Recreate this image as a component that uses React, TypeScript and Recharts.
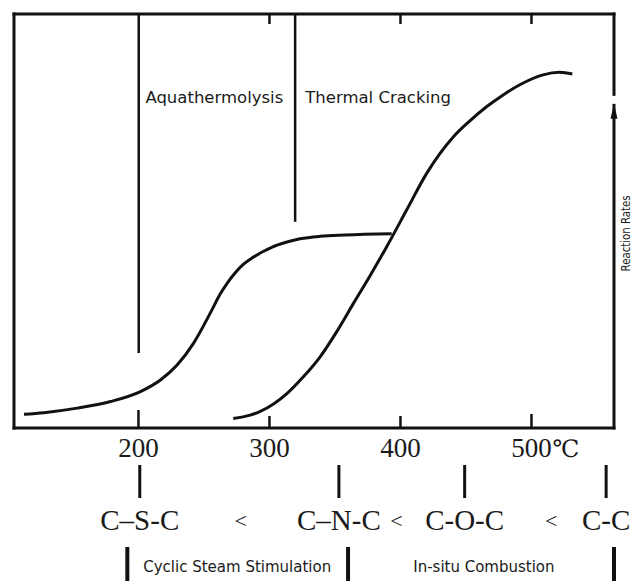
import React from 'react';
import { LineChart, Line, XAxis, YAxis, ReferenceLine, ReferenceDot } from 'recharts';

// ---------- data ----------
const tempDomain = [105, 563];
const rateDomain = [0, 100];

// low-temperature reaction curve (aquathermolysis): [temperature, rate]
const aquathermolysisCurve = [
  [112.6, 3.3], [127.8, 3.7], [153.3, 4.8], [178.7, 6.4], [201.5, 8.8],
  [216.8, 11.6], [229.5, 15.2], [242.1, 20.5], [254.9, 27.8], [262.5, 32.4],
  [267.8, 35.0], [273.9, 37.5], [280.0, 39.5], [286.9, 41.1], [294.5, 42.5],
  [302.1, 43.7], [312.0, 44.8], [323.4, 45.7], [338.7, 46.3], [357.7, 46.6],
  [393.3, 46.9],
];

// high-temperature reaction curve (thermal cracking): [temperature, rate]
const thermalCrackingCurve = [
  [272.4, 2.3], [285.3, 3.1], [293.0, 4.0], [313.3, 8.3], [325.7, 12.3],
  [338.7, 17.2], [351.6, 23.4], [364.1, 30.1], [376.8, 36.8], [389.5, 43.8],
  [404.8, 52.7], [420.0, 61.5], [440.3, 70.3], [453.0, 74.2], [465.7, 77.6],
  [478.1, 80.4], [491.1, 82.9], [508.8, 85.3], [521.6, 85.9], [531.2, 85.5],
];

const tempTicks = [200, 300, 400, 500];
const tempTickLabels = ['200', '300', '400', '500'];
const tempTickHeights = [18, 12, 12, 14];
const tempUnit = '℃';
const topTicks = [300, 400, 500];

// vertical region dividers: temperature, lower end (rate units)
const regionDividers = [
  { t: 200.2, from: 18.1 },
  { t: 319.6, from: 49.8 },
];
const regionLabels = [
  { t: 205.3, rate: 78.5, text: 'Aquathermolysis' },
  { t: 327.3, rate: 78.5, text: 'Thermal Cracking' },
];

const bondTicks = [201, 353, 449, 557];
const bondLabels = ['C–S-C', 'C–N-C', 'C-O-C', 'C-C'];
const lessThanTicks = [278, 397, 515];

const processBrackets = [191.5, 360, 563];
const processLabelTicks = [275.4, 463.7];
const processLabels = ['Cyclic Steam Stimulation', 'In-situ Combustion'];

const yAxisTitle = 'Reaction Rates';

const toRows = (pairs: number[][]) => pairs.map(([t, rate]) => ({ t, rate }));
const lowRows = toRows(aquathermolysisCurve);
const highRows = toRows(thermalCrackingCurve);

// ---------- styling ----------
const INK = '#111';
const TXT = '#1a1a1a';
const SERIF = '"Liberation Serif", "DejaVu Serif", serif';
const SANS = '"DejaVu Sans", Verdana, sans-serif';

const TempTick = (props: any) => {
  const { x, y, payload } = props;
  const i = tempTicks.indexOf(payload.value);
  return (
    <g>
      <line x1={x} y1={y} x2={x} y2={y - tempTickHeights[i]} stroke={INK} strokeWidth={2.5} />
      <text x={x} y={y + 29} textAnchor="middle" fontFamily={SERIF} fontSize={27} fill={TXT}>
        {tempTickLabels[i]}
      </text>
      {i === tempTicks.length - 1 && (
        <text x={x + 21} y={y + 29} textAnchor="start" fontFamily={SERIF} fontSize={24} fill={TXT}>
          {tempUnit}
        </text>
      )}
    </g>
  );
};

// shapes anchored on the bottom edge of the plot (cy = plot bottom)
const BondMark = (label: string) => (p: any) => (
  <g>
    <line x1={p.cx} y1={p.cy + 37} x2={p.cx} y2={p.cy + 70} stroke={INK} strokeWidth={3} />
    <text x={p.cx} y={p.cy + 102} textAnchor="middle" fontFamily={SERIF} fontSize={29} fill={TXT}>
      {label}
    </text>
  </g>
);

const LessThanMark = (p: any) => (
  <text x={p.cx} y={p.cy + 100} textAnchor="middle" fontFamily={SERIF} fontSize={22} fill={TXT}>
    {'<'}
  </text>
);

const BracketMark = (p: any) => (
  <line x1={p.cx} y1={p.cy + 119} x2={p.cx} y2={p.cy + 153} stroke={INK} strokeWidth={4} />
);

const ProcessMark = (label: string) => (p: any) => (
  <text x={p.cx} y={p.cy + 144} textAnchor="middle" fontFamily={SANS} fontSize={15} fill={TXT}>
    {label}
  </text>
);

const RegionLabel = (text: string) => (p: any) => (
  <text x={p.cx} y={p.cy} textAnchor="start" fontFamily={SANS} fontSize={16.5} fill={TXT}>
    {text}
  </text>
);

const ArrowHead = (p: any) => (
  <g>
    <rect x={p.cx - 3} y={p.cy - 8} width={6} height={8} fill="#fff" />
    <polygon points={`${p.cx},${p.cy} ${p.cx - 3.5},${p.cy + 15} ${p.cx + 3.5},${p.cy + 15}`} fill={INK} />
  </g>
);

const AxisTitle = (p: any) => (
  <text
    x={p.cx + 16}
    y={p.cy}
    transform={`rotate(-90 ${p.cx + 16} ${p.cy})`}
    textAnchor="middle"
    fontFamily={SANS}
    fontSize={12}
    textLength={76}
    lengthAdjust="spacingAndGlyphs"
    fill={TXT}
  >
    {yAxisTitle}
  </text>
);

export default function App() {
  const ax = { xAxisId: 't', yAxisId: 'l' } as const;
  const base = rateDomain[0];
  return (
    <div style={{ position: 'absolute', left: 0, top: 0, width: 642, height: 581, background: '#fff' }}>
      <LineChart width={642} height={581} margin={{ top: 14, right: 28, bottom: 0, left: 14 }}>
        <XAxis
          xAxisId="t"
          dataKey="t"
          type="number"
          domain={tempDomain}
          allowDataOverflow
          ticks={tempTicks}
          interval={0}
          height={153}
          tickSize={0}
          tickMargin={0}
          axisLine={false}
          tickLine={false}
          tick={<TempTick />}
        />
        <YAxis yAxisId="l" type="number" domain={rateDomain} allowDataOverflow hide />

        {/* frame */}
        <ReferenceLine {...ax} y={rateDomain[1]} stroke={INK} strokeWidth={3} strokeLinecap="square" />
        <ReferenceLine {...ax} y={rateDomain[0]} stroke={INK} strokeWidth={3} strokeLinecap="square" />
        <ReferenceLine {...ax} x={tempDomain[0]} stroke={INK} strokeWidth={3} strokeLinecap="square" />
        <ReferenceLine {...ax} x={tempDomain[1]} stroke={INK} strokeWidth={3} strokeLinecap="square" />

        {/* top inward ticks */}
        {topTicks.map((t) => (
          <ReferenceLine
            key={'tt' + t}
            {...ax}
            segment={[{ x: t, y: rateDomain[1] }, { x: t, y: rateDomain[1] - 2.4 }]}
            stroke={INK}
            strokeWidth={2.5}
          />
        ))}

        {/* region dividers */}
        {regionDividers.map((d) => (
          <ReferenceLine
            key={'rd' + d.t}
            {...ax}
            segment={[{ x: d.t, y: rateDomain[1] }, { x: d.t, y: d.from }]}
            stroke={INK}
            strokeWidth={2.5}
          />
        ))}
        {regionLabels.map((l) => (
          <ReferenceDot key={l.text} {...ax} x={l.t} y={l.rate} r={0} shape={RegionLabel(l.text)} />
        ))}

        {/* bond strength row */}
        {bondTicks.map((t, i) => (
          <ReferenceDot key={'b' + t} {...ax} x={t} y={base} r={0} shape={BondMark(bondLabels[i])} />
        ))}
        {lessThanTicks.map((t) => (
          <ReferenceDot key={'lt' + t} {...ax} x={t} y={base} r={0} shape={LessThanMark} />
        ))}

        {/* process row */}
        {processBrackets.map((t) => (
          <ReferenceDot key={'pb' + t} {...ax} x={t} y={base} r={0} shape={BracketMark} />
        ))}
        {processLabelTicks.map((t, i) => (
          <ReferenceDot key={'pl' + t} {...ax} x={t} y={base} r={0} shape={ProcessMark(processLabels[i])} />
        ))}

        <ReferenceDot {...ax} x={tempDomain[1]} y={78.3} r={0} shape={ArrowHead} />
        <ReferenceDot {...ax} x={tempDomain[1]} y={47} r={0} shape={AxisTitle} />

        <Line
          {...ax}
          data={lowRows}
          dataKey="rate"
          type="monotone"
          stroke={INK}
          strokeWidth={3}
          dot={false}
          activeDot={false}
          isAnimationActive={false}
        />
        <Line
          {...ax}
          data={highRows}
          dataKey="rate"
          type="monotone"
          stroke={INK}
          strokeWidth={3}
          dot={false}
          activeDot={false}
          isAnimationActive={false}
        />
      </LineChart>
    </div>
  );
}
